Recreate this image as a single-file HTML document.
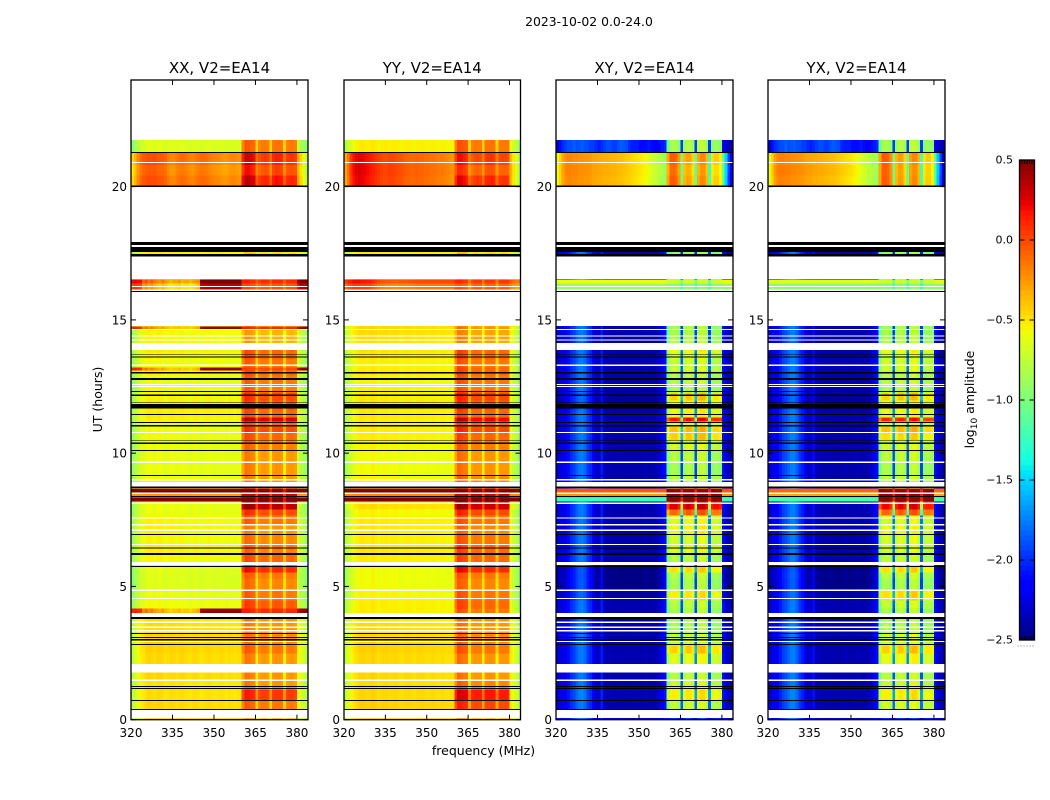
<!DOCTYPE html>
<html>
<head>
<meta charset="utf-8">
<title>2023-10-02 0.0-24.0</title>
<style>
html,body{margin:0;padding:0;background:#fff;width:1050px;height:800px;overflow:hidden}
svg{display:block}
text{font-family:"DejaVu Sans","Liberation Sans",sans-serif;fill:#000}
</style>
</head>
<body>
<svg id="fig" xmlns="http://www.w3.org/2000/svg" width="1050" height="800" viewBox="0 0 1050 800">
  <text x="589" y="26" font-size="12.4" text-anchor="middle">2023-10-02 0.0-24.0</text>
  <text x="483.5" y="755" font-size="12.5" text-anchor="middle">frequency (MHz)</text>
  <text transform="translate(102,399.5) rotate(-90)" font-size="12.5" text-anchor="middle">UT (hours)</text>
  <text transform="translate(974,399.5) rotate(-90)" font-size="12.5" text-anchor="middle">log<tspan font-size="9" dy="3">10</tspan><tspan dy="-3"> amplitude</tspan></text>
  <g id="panels"></g>
  <g id="cbar"></g>
</svg>
<script>
/* ---------- axis data ---------- */
const xTicks = [320, 335, 350, 365, 380];
const yTicks = [0, 5, 10, 15, 20];
const cbarTicks = [0.5, 0, -0.5, -1, -1.5, -2, -2.5];
const panelTitles = ['XX, V2=EA14', 'YY, V2=EA14', 'XY, V2=EA14', 'YX, V2=EA14'];

/* ---------- time bands (hours, edges) ---------- */
const bandEdges = [0,.38,.72,1.15,1.49,1.82,2.5,2.8,3.25,3.66,4,4.19,4.49,4.86,5.31,5.54,5.76,6.21,6.59,6.96,7.34,7.68,7.9,8.2,8.35,8.54,8.69,8.92,9.18,9.67,10.12,10.49,10.79,10.99,11.21,11.36,11.66,12,12.29,12.59,12.93,13.12,13.23,13.53,13.79,14.13,14.32,14.66,14.77,16.08,16.19,16.38,16.53,17.47,17.54,20.03,20.44,20.82,21.28,21.75];

/* band kinds: 0 quiet, 1 warm, 2 flat, 3 rfi, 4 top */
const xxKind = [0,0,0,0,0,0,0,0,0,0,3,0,0,0,0,0,0,0,0,0,0,0,0,2,2,2,0,0,0,0,0,0,0,0,0,0,0,0,0,0,0,3,0,0,0,0,0,3,0,3,3,3,0,0,0,1,1,1,0];
const yyKind = [0,0,0,0,0,0,0,0,0,0,0,0,0,0,0,0,0,0,0,0,0,0,0,2,2,2,0,0,0,0,0,0,0,0,0,0,0,0,0,0,0,0,0,0,0,0,0,0,0,3,3,3,0,0,0,1,1,1,0];
const xyKind = [0,0,0,0,0,0,0,0,0,0,0,0,0,0,0,0,0,0,0,0,0,0,0,2,2,2,0,0,0,0,0,0,0,0,0,0,0,0,0,0,0,0,0,0,0,0,0,0,0,2,2,2,0,0,0,1,1,1,4];
const yxKind = [0,0,0,0,0,0,0,0,0,0,0,0,0,0,0,0,0,0,0,0,0,0,0,2,2,2,0,0,0,0,0,0,0,0,0,0,0,0,0,0,0,0,0,0,0,0,0,0,0,2,2,2,0,0,0,1,1,1,4];

/* per-band level of the low channels and of the high sub-bands */
const xxLow  = [-.5,-.48,-.5,-.52,-.48,-.48,-.46,-.46,-.5,-.5,0,-.6,-.62,-.66,-.66,-.64,-.58,-.56,-.58,-.56,-.58,-.62,-.62,.5,-.25,.5,-.62,-.6,-.62,-.62,-.62,-.6,-.6,-.6,-.56,-.54,-.56,-.56,-.6,-.62,-.56,0,-.6,-.58,-.54,-.58,-.58,0,-.5,-.05,-.1,.1,-.5,-.55,-.5,0,-.05,0,-.66];
const xxHigh = [-.35,-.1,.1,-.2,-.2,-.2,-.1,-.15,-.2,-.2,.1,0,-.1,-.15,-.1,.15,-.05,-.12,-.15,-.2,-.1,.05,.4,.5,.3,.5,-.2,-.2,-.2,-.2,-.12,-.05,.05,-.05,.3,-.05,0,.05,-.1,-.1,-.05,0,-.1,-.05,-.05,-.3,-.3,.1,-.3,0,-.05,.1,-.5,-.4,-.5,.15,0,.1,-.1];
const yyLow  = [-.48,-.46,-.48,-.5,-.48,-.48,-.46,-.48,-.5,-.52,-.55,-.55,-.58,-.6,-.6,-.6,-.55,-.54,-.55,-.54,-.55,-.58,-.5,.5,-.2,.5,-.58,-.58,-.6,-.6,-.58,-.56,-.55,-.55,-.55,-.54,-.54,-.54,-.56,-.58,-.54,-.55,-.56,-.54,-.52,-.52,-.5,-.48,-.5,-.1,-.1,.05,-.5,-.55,-.5,0,.02,0,-.55];
const yyHigh = [-.35,.05,.2,-.15,-.2,-.2,-.1,-.15,-.2,-.2,-.1,-.05,-.1,-.15,-.1,.15,-.05,-.05,-.1,-.15,-.1,.05,.35,.5,.3,.5,-.2,-.15,-.2,-.2,-.12,-.05,.05,-.05,.25,-.05,0,.05,-.1,-.1,-.05,-.05,-.1,-.05,-.05,-.25,-.25,-.2,-.3,0,-.1,.05,-.5,-.4,-.5,.1,-.05,.05,-.1];
const xyLow  = [.03,0,.03,0,0,0,0,0,0,-.05,0,0,-.05,-.1,-.1,-.1,0,0,0,0,0,0,0,-1.25,-.25,-.05,0,0,0,0,0,0,0,0,0,0,-.05,-.05,0,0,0,0,0,0,0,-.05,0,0,0,-.95,-.9,-.6,0,0,0,0,.02,0,0];
const xyHigh = [-2,-.75,-.55,-.75,-.8,-.65,-.45,-.75,-.85,-.85,-.85,-.8,-.55,-.85,-.8,-.5,-.8,-.65,-.7,-.6,-.65,-.1,.25,.45,.45,.45,-.75,-.8,-.85,-.8,-.7,-.45,-.4,-.6,.15,-.6,-.6,-.45,-.85,-.8,-.8,-.7,-.75,-.7,-.6,-.8,-.85,-.85,-.85,-.9,-.95,-.7,-.9,-.95,-.9,0,-.05,0,-.85];
const yxLow  = [.03,0,.02,0,0,0,0,0,0,-.05,0,0,-.03,-.1,-.08,-.1,0,0,0,0,0,0,0,-1.2,-.3,-.1,0,0,0,0,0,0,0,0,0,0,-.05,-.05,0,0,0,0,0,0,0,-.05,0,0,0,-.95,-.95,-.65,0,0,0,0,.03,0,0];
const yxHigh = [-2,-.7,-.55,-.75,-.78,-.62,-.45,-.72,-.82,-.85,-.85,-.75,-.5,-.85,-.78,-.5,-.78,-.7,-.68,-.62,-.68,-.1,.2,.45,.45,.45,-.72,-.78,-.82,-.78,-.72,-.5,-.4,-.62,.1,-.62,-.62,-.45,-.82,-.78,-.8,-.7,-.72,-.72,-.6,-.8,-.85,-.85,-.85,-.9,-.95,-.72,-.9,-.95,-.9,0,-.02,0,-.85];

/* ---------- channel profiles (64 channels, 1 MHz each) ---------- */
const xxQuiet = [-.3,-.2,-.12,-.05,-.02,.02,.04,.03,.01,.03,.04,.02,-.01,.01,.03,.02,0,.02,.03,.01,0,-.01,.01,.02,0,-.02,0,.01,.02,0,-.01,0,.01,0,-.02,.01,0,-.02,0,0,-.1,.07,.05,.02,0,-.34,-.1,-.06,-.05,-.08,-.34,-.06,-.03,-.03,-.05,-.34,-.08,-.05,-.05,-.08,-.08,-.15,-.22,-.3];
const yyQuiet = [-.28,-.18,-.1,-.04,0,.03,.04,.03,.02,.03,.05,.03,0,.02,.03,.03,.01,.02,.03,.02,0,0,.02,.02,.01,-.01,.01,.02,.02,.01,0,.01,.02,0,-.01,.01,0,-.01,0,0,-.08,.1,.08,.05,.03,-.34,-.08,-.05,-.05,-.06,-.34,-.04,-.03,-.03,-.04,-.34,-.06,-.05,-.05,-.06,-.05,-.14,-.22,-.32];
const xyQuiet = [-2.3,-2.25,-2.25,-2.2,-2.1,-2,-1.95,-1.85,-1.78,-1.76,-1.82,-1.95,-2.02,-2.15,-2.3,-2.32,-2.05,-2.35,-2.36,-2.36,-2.38,-2.38,-2.36,-2.38,-2.38,-2.38,-2.38,-2.38,-2.36,-2.38,-2.38,-2.38,-2.35,-2.38,-2.38,-2.38,-2.35,-2.3,-2.2,-2.1,-.25,0,.02,.02,-.1,-1.1,-.05,.05,.05,-.05,-1.1,.05,.1,.1,-.05,-1.1,-.1,-.05,-.05,-.1,-2.1,-2.3,-2.35,-2.38];
const yxQuiet = [-2.3,-2.25,-2.2,-2.15,-2.05,-1.95,-1.9,-1.82,-1.76,-1.76,-1.84,-1.98,-2.05,-2.18,-2.3,-2.3,-2.1,-2.35,-2.36,-2.36,-2.38,-2.38,-2.36,-2.38,-2.38,-2.38,-2.38,-2.38,-2.36,-2.38,-2.38,-2.38,-2.35,-2.38,-2.38,-2.38,-2.35,-2.3,-2.2,-2.1,-.25,0,.02,.02,-.1,-1.1,-.05,.05,.05,-.05,-1.1,.05,.1,.1,-.05,-1.1,-.1,-.05,-.05,-.1,-2.1,-2.3,-2.35,-2.38];
const crossTop = [-2.3,-2.1,-2,-1.95,-1.9,-1.9,-1.85,-1.9,-1.88,-1.85,-1.9,-1.9,-1.95,-1.95,-2,-2.05,-2,-1.95,-1.9,-1.9,-1.95,-1.95,-1.9,-1.85,-1.88,-1.9,-2,-2.05,-2.05,-2.05,-2.1,-2.1,-2.1,-2.05,-2.1,-2.15,-2.15,-2.1,-2.05,-2,-.25,0,.02,.02,-.1,-1.1,-.05,.05,.05,-.05,-1.1,.05,.1,.1,-.05,-1.1,-.1,-.05,-.05,-.1,-2.2,-2.3,-2.35,-2.38];
const xxWarm = [-.45,-.35,-.2,-.1,-.05,-.02,0,-.02,0,-.03,-.05,-.05,-.08,-.15,-.2,-.2,-.15,-.12,-.1,-.12,-.15,-.18,-.2,-.15,-.12,-.1,-.1,-.12,-.15,-.18,-.2,-.2,-.22,-.25,-.25,-.22,-.2,-.2,-.22,-.25,.05,.2,.2,.15,.1,-.2,-.1,-.05,-.03,-.05,-.22,0,.05,.03,0,-.2,-.05,-.03,-.03,-.05,-.3,-.45,-.6,-.75];
const yyWarm = [-.3,-.15,.05,.18,.22,.25,.22,.2,.18,.15,.12,.08,.05,.02,0,0,.02,.02,0,-.02,-.03,-.05,-.08,-.08,-.1,-.1,-.08,-.1,-.1,-.12,-.12,-.14,-.14,-.16,-.18,-.16,-.18,-.2,-.22,-.25,0,.15,.15,.1,.05,-.2,-.1,-.05,-.03,-.05,-.2,0,.03,.03,0,-.2,-.05,-.03,-.03,-.05,-.35,-.5,-.65,-.8];
const xyWarm = [-.6,-.45,-.3,-.22,-.2,-.2,-.22,-.22,-.24,-.24,-.25,-.25,-.27,-.3,-.3,-.32,-.32,-.34,-.34,-.35,-.36,-.36,-.38,-.38,-.4,-.42,-.44,-.46,-.48,-.5,-.52,-.55,-.58,-.62,-.68,-.72,-.76,-.8,-.85,-.9,-.3,-.05,-.05,-.1,-.25,-1.05,-.35,-.28,-.3,-.45,-1.1,-.3,-.2,-.2,-.35,-1.2,-.5,-.42,-.42,-.55,-1.1,-1.5,-1.95,-2.2];
const yxWarm = [-.65,-.45,-.28,-.2,-.18,-.18,-.2,-.2,-.22,-.22,-.24,-.24,-.25,-.28,-.3,-.3,-.32,-.32,-.34,-.34,-.35,-.36,-.38,-.38,-.4,-.42,-.44,-.46,-.48,-.5,-.52,-.55,-.6,-.64,-.7,-.74,-.78,-.82,-.85,-.92,-.3,-.05,-.05,-.08,-.22,-1.05,-.35,-.26,-.28,-.45,-1.1,-.28,-.2,-.2,-.35,-1.2,-.5,-.42,-.42,-.55,-1.15,-1.55,-1.95,-2.25];
const flatProfile = [0,0,0,0,0,0,0,0,0,0,0,0,0,0,0,0,0,0,0,0,0,0,0,0,0,0,0,0,0,0,0,0,0,0,0,0,0,0,0,0,0,0,0,0,0,-.3,0,0,0,0,-.3,0,0,0,0,-.3,0,0,0,0,0,0,0,0];
const xxRfi = [.1,.15,.1,.1,-.2,-.1,-.25,-.15,-.25,-.3,-.35,-.25,-.35,-.4,-.45,-.4,-.4,-.35,-.45,-.4,-.4,-.45,-.4,-.35,-.3,.4,.45,.45,.45,.45,.45,.45,.45,.45,.45,.45,.45,.45,.45,.45,.05,.05,.05,0,0,-.15,-.05,0,0,0,-.15,0,0,0,0,-.15,0,0,0,0,.3,.45,.45,.45];
const yyRfi = [0,.05,.1,.15,.15,.15,.12,.12,.1,.1,.05,0,-.05,-.08,-.08,-.1,-.1,-.12,-.12,-.12,-.1,-.1,-.1,-.08,-.08,-.08,-.05,-.05,-.05,-.05,-.05,-.05,-.05,-.05,-.05,-.05,-.05,-.05,-.05,-.05,.05,.05,.05,0,0,-.2,-.05,0,0,0,-.2,0,0,0,0,-.2,0,0,0,0,-.1,-.15,-.2,-.2];

/* ---------- no-data (white) and zero-flagged (black) scans, hours ---------- */
const whiteStart = [.06,1.45,1.77,1.83,2.91,3.31,3.44,3.62,3.85,4.53,4.83,5.8,6.55,7.08,7.28,7.55,8.09,8.46,8.75,8.98,9.63,10.76,12.48,12.56,13.27,13.87,14.23,14.38,14.62,14.77,16.08,16.23,16.53,17.73,17.92,20.88];
const whiteEnd   = [.36,1.5,1.82,2.09,2.95,3.36,3.5,3.68,4,4.57,4.88,5.91,6.59,7.13,7.34,7.59,8.15,8.52,8.92,9.04,9.69,10.79,12.52,12.59,13.33,14.13,14.27,14.41,14.66,16.05,16.14,16.27,17.38,17.81,19.98,20.93];
const blackStart = [.36,.7,1.15,1.22,2.8,2.98,3.06,3.21,3.77,5.73,6.18,6.42,6.93,8.35,8.69,9.14,10.08,10.34,10.47,11,11.13,11.44,11.67,11.88,12.15,12.3,12.75,12.99,13.59,13.7,16.05,17.38,17.54,17.81,19.98,21.26];
const blackEnd   = [.4,.74,1.19,1.26,2.84,3.02,3.1,3.25,3.85,5.76,6.25,6.47,6.96,8.39,8.75,9.18,10.12,10.4,10.5,11.06,11.17,11.47,11.84,11.91,12.2,12.33,12.82,13.04,13.62,13.72,16.08,17.47,17.73,17.92,20.04,21.3];

/* ---------- layout ---------- */
const panelLeft = [131, 344, 556, 768];
const panelRight = [308, 520.5, 733, 945];
const plotTop = 80, plotBottom = 719.7;
const chanCount = 64, freqStart = 320, freqEnd = 384, hourMax = 24;
const cMin = -2.5, cMax = 0.5;
const NS = 'http://www.w3.org/2000/svg';

const polData = [
  {kind: xxKind, low: xxLow, high: xxHigh, quiet: xxQuiet, warm: xxWarm, rfi: xxRfi, top: xxQuiet},
  {kind: yyKind, low: yyLow, high: yyHigh, quiet: yyQuiet, warm: yyWarm, rfi: yyRfi, top: yyQuiet},
  {kind: xyKind, low: xyLow, high: xyHigh, quiet: xyQuiet, warm: xyWarm, rfi: flatProfile, top: crossTop},
  {kind: yxKind, low: yxLow, high: yxHigh, quiet: yxQuiet, warm: yxWarm, rfi: flatProfile, top: crossTop}
];

function el(tag, attrs, parent) {
  const n = document.createElementNS(NS, tag);
  for (const k in attrs) n.setAttribute(k, attrs[k]);
  parent.appendChild(n);
  return n;
}
function lerp(stops, t) {
  for (let i = 1; i < stops.length; i++) {
    if (t <= stops[i][0]) {
      const a = stops[i - 1], b = stops[i];
      return a[1] + (b[1] - a[1]) * (t - a[0]) / (b[0] - a[0]);
    }
  }
  return stops[stops.length - 1][1];
}
const jetR = [[0,0],[.35,0],[.66,1],[.89,1],[1,.5]];
const jetG = [[0,0],[.125,0],[.375,1],[.64,1],[.91,0],[1,0]];
const jetB = [[0,.5],[.11,1],[.34,1],[.65,0],[1,0]];
function jet(v) {
  const t = Math.max(0, Math.min(1, (v - cMin) / (cMax - cMin)));
  const c = s => Math.round(255 * lerp(s, t));
  return 'rgb(' + c(jetR) + ',' + c(jetG) + ',' + c(jetB) + ')';
}
function yScale(h) { return plotBottom - (h / hourMax) * (plotBottom - plotTop); }
function xScale(p, f) { return panelLeft[p] + (f - freqStart) / (freqEnd - freqStart) * (panelRight[p] - panelLeft[p]); }
function profileFor(pol, kind) {
  if (kind === 1) return pol.warm;
  if (kind === 2) return flatProfile;
  if (kind === 3) return pol.rfi;
  if (kind === 4) return pol.top;
  return pol.quiet;
}
function cellValue(pol, band, ch) {
  const kind = pol.kind[band];
  const prof = profileFor(pol, kind);
  const isHigh = ch >= 40 && ch < 60;
  return prof[ch] + (isHigh ? pol.high[band] : pol.low[band]);
}

const panelsG = document.getElementById('panels');
panelTitles.forEach(function (title, p) {
  const g = el('g', {}, panelsG);
  
  
  const x0 = panelLeft[p], x1 = panelRight[p];
  const pol = polData[p];

  const heat = el('g', {'shape-rendering': 'crispEdges'}, g);
  
  
  for (let b = 0; b < bandEdges.length - 1; b++) {
    const yTop = yScale(bandEdges[b + 1]);
    const yBot = yScale(bandEdges[b]);
    for (let ch = 0; ch < chanCount; ch++) {
      const xa = xScale(p, freqStart + ch);
      const xb = xScale(p, freqStart + ch + 1);
      const r = el('rect', {x: xa.toFixed(2), y: yTop.toFixed(2), width: (xb - xa + .4).toFixed(2), height: (yBot - yTop + .4).toFixed(2), fill: jet(cellValue(pol, b, ch))}, heat);
      
      
    }
  }
  whiteStart.forEach(function (s, i) {
    const r = el('rect', {x: x0, y: yScale(whiteEnd[i]).toFixed(2), width: x1 - x0, height: (yScale(s) - yScale(whiteEnd[i])).toFixed(2), fill: '#fff'}, heat);
    
    
  });
  blackStart.forEach(function (s, i) {
    const r = el('rect', {x: x0, y: yScale(blackEnd[i]).toFixed(2), width: x1 - x0, height: (yScale(s) - yScale(blackEnd[i])).toFixed(2), fill: '#000'}, heat);
    
    
  });

  const frame = el('rect', {x: x0, y: plotTop, width: x1 - x0, height: plotBottom - plotTop, fill: 'none', stroke: '#000', 'stroke-width': 1.3}, g);
  
  

  xTicks.forEach(function (f) {
    const x = xScale(p, f);
    const t1 = el('line', {x1: x, x2: x, y1: plotBottom, y2: plotBottom - 5, stroke: '#000', 'stroke-width': 1}, g);
    
    
    const t2 = el('line', {x1: x, x2: x, y1: plotTop, y2: plotTop + 5, stroke: '#000', 'stroke-width': 1}, g);
    
    
    const lab = el('text', {x: x, y: 737, 'font-size': 12, 'text-anchor': 'middle'}, g);
    
    
    lab.textContent = String(f);
  });
  yTicks.forEach(function (h) {
    const y = yScale(h);
    const t1 = el('line', {x1: x0, x2: x0 + 5, y1: y, y2: y, stroke: '#000', 'stroke-width': 1}, g);
    
    
    const t2 = el('line', {x1: x1, x2: x1 - 5, y1: y, y2: y, stroke: '#000', 'stroke-width': 1}, g);
    
    
    const lab = el('text', {x: x0 - 4, y: y + 4.5, 'font-size': 12, 'text-anchor': 'end'}, g);
    
    
    lab.textContent = String(h);
  });
  const tt = el('text', {x: (x0 + x1) / 2, y: 73, 'font-size': 15, 'text-anchor': 'middle'}, g);
  
  
  tt.textContent = title;
});

/* ---------- colorbar ---------- */
const cbG = document.getElementById('cbar');
const cbX = 1019.5, cbW = 15, cbTop = 160, cbBottom = 640;
function cbY(v) { return cbBottom - (v - cMin) / (cMax - cMin) * (cbBottom - cbTop); }
const cbSteps = 96;
for (let i = 0; i < cbSteps; i++) {
  const v0 = cMin + (cMax - cMin) * i / cbSteps;
  const v1 = cMin + (cMax - cMin) * (i + 1) / cbSteps;
  const r = el('rect', {x: cbX, y: cbY(v1).toFixed(2), width: cbW, height: (cbY(v0) - cbY(v1) + .5).toFixed(2), fill: jet((v0 + v1) / 2), 'shape-rendering': 'crispEdges'}, cbG);
  
  
}
const cbFrame = el('rect', {x: cbX, y: cbTop, width: cbW, height: cbBottom - cbTop, fill: 'none', stroke: '#000', 'stroke-width': 1.3}, cbG);


cbarTicks.forEach(function (v) {
  const y = cbY(v);
  const a = el('line', {x1: cbX, x2: cbX + 5, y1: y, y2: y, stroke: '#000', 'stroke-width': 1}, cbG);
  
  
  const b = el('line', {x1: cbX + cbW, x2: cbX + cbW - 5, y1: y, y2: y, stroke: '#000', 'stroke-width': 1}, cbG);
  
  
  const lab = el('text', {x: 1013, y: y + 3.5, 'font-size': 11, 'text-anchor': 'end'}, cbG);
  
  
  lab.textContent = (v < 0 ? '\u2212' : '') + Math.abs(v).toFixed(1);
});
const edgeMarks = [1022, 1024.5, 1027, 1029.5, 1032];
edgeMarks.forEach(function (x) {
  const a = el('line', {x1: x, x2: x, y1: cbTop, y2: cbTop + 4, stroke: '#000', 'stroke-width': 1}, cbG);
  
  
  const b = el('line', {x1: x, x2: x, y1: cbBottom, y2: cbBottom - 4, stroke: '#000', 'stroke-width': 1}, cbG);
  
  
});
const dots = el('line', {x1: 1017.5, x2: 1035, y1: 646, y2: 646, stroke: '#777', 'stroke-width': 1, 'stroke-dasharray': '1 2'}, cbG);


</script>
</body>
</html>
